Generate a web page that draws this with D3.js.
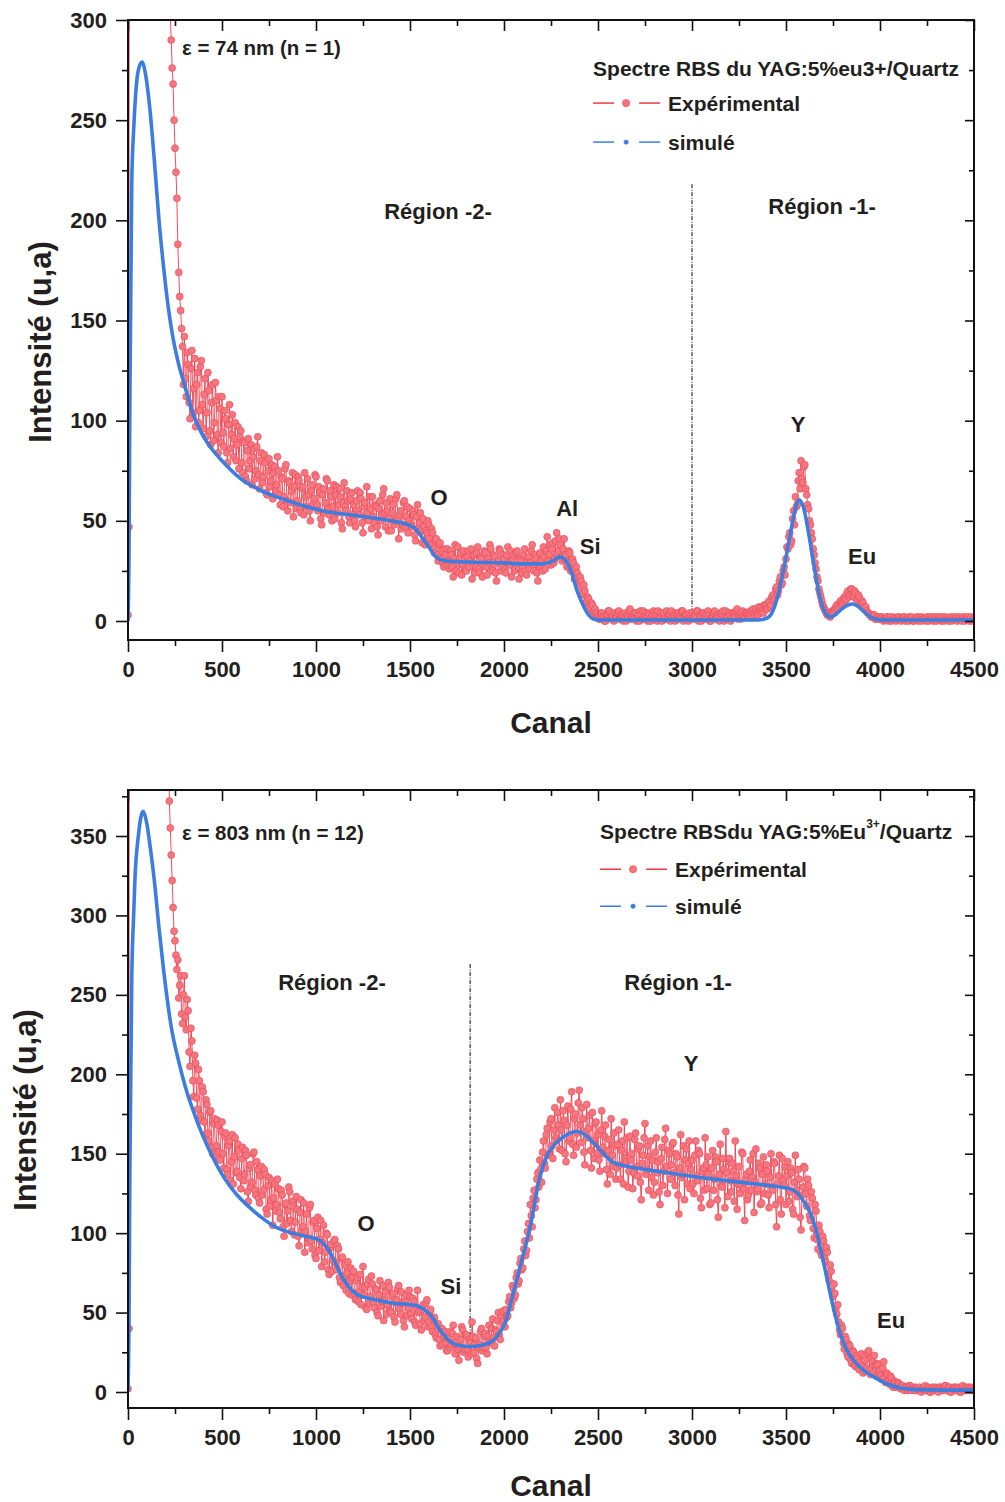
<!DOCTYPE html>
<html>
<head>
<meta charset="utf-8">
<script src="https://cdn.jsdelivr.net/npm/d3@7"></script>
<style>
body { margin: 0; background: #fff; }
text { font-family: "Liberation Sans", Arial, sans-serif; font-weight: bold; fill: #231f20; }
</style>
</head>
<body>
<script>
// channel grid of the measured spectra
var expStep = 5;

// panel 1 : 74 nm film, measured counts every 5 channels (0 .. 4500), one row = 100 channels
var exp1 = [
  3, 47, 1500, 1500, 1500, 1500, 1500, 1500, 1500, 1500, 1500, 1500, 1500, 1500, 1500, 1500, 1500, 1500, 1500, 1500,
  1500, 1500, 1500, 1500, 1500, 1500, 1500, 1500, 1500, 1500, 1500, 1500, 1500, 1500, 1500, 1500, 1500, 1500, 1500, 1500,
  1500, 1500, 560, 380, 318, 302, 290, 276, 268, 250, 236, 224, 211, 188, 174, 162, 155, 146, 137, 118,
  142, 121, 112, 134, 128, 109, 101, 126, 135, 104, 116, 131, 97, 118, 124, 99, 105, 127, 130, 108,
  96, 113, 121, 92, 104, 124, 115, 95, 88, 109, 118, 90, 99, 119, 110, 93, 84, 112, 106, 89,
  112, 94, 87, 105, 101, 84, 79, 98, 108, 86, 93, 103, 82, 91, 99, 80, 88, 97, 76, 92,
  95, 79, 74, 90, 89, 72, 70, 85, 91, 76, 80, 88, 68, 82, 86, 71, 75, 87, 92, 73,
  66, 80, 84, 69, 72, 83, 79, 64, 63, 75, 81, 67, 70, 78, 61, 74, 77, 65, 68, 82,
  75, 63, 58, 72, 71, 57, 62, 76, 78, 60, 55, 70, 69, 59, 65, 74, 52, 67, 73, 56,
  60, 72, 70, 56, 54, 66, 67, 53, 74, 62, 57, 71, 63, 55, 50, 65, 68, 58, 61, 73,
  72, 58, 55, 67, 64, 51, 48, 63, 66, 54, 59, 71, 70, 56, 53, 65, 62, 50, 57, 68,
  51, 63, 67, 54, 58, 66, 62, 49, 46, 59, 69, 57, 55, 65, 60, 52, 49, 61, 64, 53,
  58, 50, 47, 60, 65, 55, 53, 64, 61, 49, 44, 57, 59, 52, 67, 54, 50, 62, 56, 46,
  62, 52, 49, 58, 57, 47, 43, 56, 60, 50, 53, 63, 66, 54, 47, 59, 55, 45, 51, 61,
  45, 54, 58, 48, 50, 61, 63, 51, 41, 53, 55, 46, 48, 59, 60, 47, 52, 57, 44, 50,
  56, 48, 47, 55, 53, 43, 40, 52, 58, 46, 49, 54, 45, 39, 51, 47, 38, 45, 44, 50,
  48, 41, 38, 46, 44, 36, 34, 40, 41, 33, 30, 38, 39, 31, 35, 29, 27, 36, 33, 28,
  36, 30, 26, 35, 33, 27, 22, 31, 38, 25, 29, 37, 24, 32, 34, 23, 28, 35, 31, 26,
  25, 32, 35, 27, 30, 36, 21, 29, 33, 24, 27, 34, 37, 26, 24, 32, 31, 22, 28, 35,
  34, 27, 23, 31, 29, 38, 36, 26, 25, 33, 32, 24, 20, 29, 30, 36, 35, 25, 27, 33,
  31, 26, 24, 33, 37, 29, 28, 35, 22, 30, 33, 25, 26, 34, 35, 27, 21, 31, 30, 24,
  27, 33, 36, 25, 23, 30, 32, 26, 29, 35, 38, 28, 25, 33, 31, 24, 20, 29, 34, 27,
  30, 25, 37, 32, 26, 35, 42, 30, 33, 38, 28, 36, 39, 29, 31, 40, 44, 33, 35, 41,
  38, 32, 30, 36, 41, 31, 33, 27, 28, 35, 34, 25, 26, 31, 29, 21, 22, 27, 24, 18,
  17, 22, 20, 13, 14, 18, 15, 9, 10, 12, 11, 6, 7, 9, 8, 4, 5, 6, 4, 2,
  3, 1, 1, 4, 4, 2, 2, 0, 0, 3, 3, 5, 5, 2, 1, 3, 2, 0, 4, 2,
  2, 4, 5, 1, 1, 3, 3, 0, 4, 2, 0, 3, 2, 5, 6, 1, 3, 2, 1, 4,
  4, 0, 2, 3, 0, 5, 3, 1, 5, 2, 1, 4, 2, 0, 4, 3, 0, 2, 3, 5,
  1, 4, 3, 0, 5, 2, 2, 4, 0, 3, 4, 1, 2, 5, 1, 3, 3, 0, 5, 2,
  2, 3, 0, 4, 3, 1, 4, 2, 1, 5, 5, 0, 2, 3, 3, 1, 0, 4, 2, 1,
  4, 2, 1, 3, 2, 5, 5, 0, 3, 2, 0, 4, 4, 1, 2, 3, 1, 5, 3, 0,
  0, 2, 3, 4, 5, 1, 1, 3, 2, 0, 4, 2, 3, 5, 0, 2, 5, 1, 2, 4,
  3, 0, 1, 4, 4, 2, 2, 5, 6, 1, 3, 4, 1, 3, 5, 2, 2, 4, 4, 3,
  3, 2, 5, 4, 2, 6, 4, 3, 6, 4, 3, 7, 5, 4, 7, 5, 4, 8, 8, 6,
  6, 9, 10, 7, 8, 12, 13, 10, 11, 16, 17, 13, 15, 20, 22, 18, 19, 25, 27, 23,
  31, 37, 36, 42, 44, 38, 40, 51, 55, 48, 62, 57, 58, 70, 74, 66, 80, 71, 69, 77,
  78, 66, 63, 58, 56, 50, 48, 44, 41, 36, 33, 29, 26, 22, 20, 16, 14, 12, 10, 8,
  7, 6, 5, 4, 3, 4, 4, 2, 3, 5, 5, 4, 6, 7, 8, 6, 7, 9, 10, 8,
  9, 11, 12, 10, 11, 14, 15, 12, 13, 16, 16, 13, 12, 15, 14, 11, 10, 13, 12, 9,
  8, 10, 9, 7, 6, 7, 5, 4, 4, 3, 3, 2, 2, 3, 3, 1, 1, 2, 2, 1,
  1, 2, 2, 1, 0, 1, 1, 2, 2, 0, 1, 2, 0, 1, 2, 1, 1, 0, 1, 2,
  2, 1, 0, 1, 1, 2, 2, 0, 1, 1, 0, 2, 1, 1, 2, 0, 0, 1, 1, 2,
  1, 0, 2, 1, 0, 2, 1, 1, 1, 0, 2, 1, 0, 2, 1, 1, 2, 0, 1, 2,
  0, 2, 1, 1, 2, 0, 1, 2, 0, 1, 2, 1, 1, 0, 1, 2, 0, 1, 2, 1,
  1, 2, 0, 1, 2, 1, 1, 0, 2, 1, 0, 2, 1, 1, 2, 0, 1, 2, 0, 1,
  1
];

// panel 1 : simulation
var sim1Ch = [0, 5, 10, 20, 30, 40, 55, 75, 95, 117, 140, 165, 190, 215, 240, 270, 300, 340, 390, 445,
  500, 600, 700, 835, 950, 1050, 1200, 1314, 1400, 1491, 1530, 1562, 1600, 1633, 1670, 1740, 1850,
  2000, 2100, 2200, 2250, 2298, 2330, 2360, 2387, 2420, 2450, 2475, 2510, 2600, 3000, 3350, 3400,
  3430, 3460, 3490, 3520, 3545, 3570, 3595, 3620, 3650, 3680, 3710, 3735, 3760, 3790, 3820, 3852,
  3880, 3910, 3950, 4000, 4100, 4500];
var sim1Val = [0, 30, 110, 219, 245, 262, 275, 279, 272, 255, 230, 200, 176, 156, 141, 128, 118, 105, 94, 86,
  80, 71, 65.5, 60.5, 57, 54.7, 52.8, 51.3, 50, 48, 46, 42, 37, 32.5, 30.5, 29.7, 29.3,
  29, 28.5, 28.5, 29.5, 32, 30, 24, 15.5, 8, 3, 1, 0.5, 0.5, 0.5, 0.5, 1.5,
  5, 14, 27, 42, 54, 60.5, 56, 44, 27, 12, 4, 2, 3, 5.5, 7.5, 8.5,
  7.5, 5, 2, 0.6, 0.5, 0.5];

// panel 2 : 803 nm film, measured counts every 5 channels (0 .. 4500), one row = 100 channels
var exp2 = [
  2, 40, 1500, 1500, 1500, 1500, 1500, 1500, 1500, 1500, 1500, 1500, 1500, 1500, 1500, 1500, 1500, 1500, 1500, 1500,
  1500, 1500, 1500, 1500, 1500, 1500, 1500, 1500, 1500, 1500, 1500, 1500, 1500, 1500, 1500, 1500, 1500, 1500, 1500, 1500,
  1500, 1500, 760, 420, 372, 355, 338, 322, 305, 290, 284, 275, 266, 272, 248, 256, 262, 238, 232, 250,
  262, 236, 228, 247, 240, 214, 205, 229, 221, 196, 186, 212, 207, 185, 178, 203, 196, 174, 171, 192,
  189, 170, 162, 184, 181, 163, 158, 176, 177, 154, 150, 169, 172, 148, 155, 171, 168, 151, 146, 164,
  170, 150, 141, 161, 163, 140, 137, 155, 158, 133, 145, 162, 131, 148, 160, 138, 139, 156, 152, 135,
  128, 147, 154, 133, 137, 152, 149, 126, 120, 141, 143, 129, 132, 150, 151, 127, 124, 145, 140, 122,
  119, 136, 142, 124, 127, 140, 137, 115, 112, 130, 135, 117, 121, 133, 105, 122, 131, 114, 118, 134,
  128, 113, 109, 127, 124, 104, 98, 118, 119, 106, 114, 129, 126, 108, 101, 120, 117, 99, 107, 123,
  115, 98, 92, 113, 121, 102, 104, 119, 88, 101, 112, 94, 97, 116, 118, 95, 90, 107, 108, 86,
  84, 103, 110, 89, 96, 108, 79, 94, 105, 82, 88, 100, 99, 77, 74, 91, 93, 76, 83, 95,
  96, 81, 77, 92, 90, 72, 69, 84, 85, 67, 73, 80, 64, 75, 82, 62, 70, 78, 61, 72,
  76, 62, 58, 70, 72, 57, 63, 74, 55, 66, 79, 61, 66, 53, 52, 68, 71, 56, 60, 73,
  68, 56, 53, 65, 64, 50, 48, 61, 70, 54, 57, 67, 45, 58, 63, 49, 55, 69, 66, 51,
  50, 60, 62, 47, 44, 56, 58, 65, 67, 52, 49, 63, 56, 45, 41, 57, 61, 48, 53, 64,
  60, 49, 46, 59, 57, 44, 42, 53, 64, 50, 51, 43, 39, 52, 55, 45, 47, 56, 58, 41,
  44, 50, 52, 41, 38, 46, 47, 36, 34, 42, 43, 33, 29, 39, 40, 30, 35, 38, 31, 26,
  26, 34, 38, 28, 30, 37, 42, 31, 24, 32, 35, 27, 20, 29, 33, 41, 39, 25, 27, 36,
  36, 27, 22, 33, 31, 24, 44, 35, 25, 30, 34, 21, 18, 28, 30, 38, 40, 26, 28, 35,
  37, 28, 24, 35, 42, 32, 31, 40, 46, 34, 29, 39, 38, 45, 50, 36, 33, 47, 44, 51,
  45, 41, 52, 47, 48, 57, 60, 53, 56, 67, 65, 59, 61, 72, 75, 68, 70, 81, 84, 77,
  78, 90, 95, 86, 89, 101, 106, 97, 118, 111, 104, 122, 127, 116, 121, 134, 138, 129, 146, 140,
  132, 151, 158, 144, 141, 162, 166, 149, 150, 170, 172, 155, 147, 165, 179, 160, 158, 176, 168, 153,
  184, 165, 152, 177, 171, 150, 145, 168, 180, 158, 160, 178, 189, 156, 149, 172, 175, 154, 163, 182,
  190, 168, 157, 179, 172, 151, 143, 164, 181, 160, 166, 174, 152, 141, 176, 158, 147, 169, 170, 150,
  162, 146, 139, 165, 177, 154, 150, 161, 168, 140, 131, 152, 159, 137, 172, 149, 142, 163, 155, 134,
  141, 156, 165, 143, 134, 152, 158, 131, 170, 147, 145, 160, 129, 139, 161, 146, 150, 128, 138, 159,
  163, 142, 136, 153, 155, 132, 121, 144, 149, 160, 169, 137, 140, 155, 127, 148, 158, 135, 146, 124,
  132, 151, 160, 138, 145, 126, 118, 147, 154, 130, 139, 159, 166, 142, 125, 152, 150, 134, 143, 156,
  157, 138, 130, 150, 148, 124, 112, 141, 162, 135, 137, 155, 121, 146, 153, 131, 144, 158, 128, 140,
  146, 131, 125, 149, 158, 136, 133, 152, 150, 122, 116, 139, 141, 127, 160, 143, 128, 148, 137, 118,
  119, 141, 152, 127, 134, 148, 145, 121, 110, 137, 156, 130, 129, 147, 140, 116, 164, 138, 123, 145,
  147, 133, 126, 144, 139, 120, 158, 136, 115, 131, 142, 125, 131, 151, 150, 128, 108, 134, 137, 121,
  124, 139, 146, 127, 135, 150, 113, 132, 153, 126, 128, 144, 141, 118, 119, 137, 148, 125, 131, 143,
  139, 124, 116, 135, 150, 129, 127, 145, 144, 118, 104, 131, 136, 149, 121, 112, 147, 133, 130, 142,
  118, 136, 145, 120, 126, 141, 138, 115, 112, 132, 149, 127, 123, 140, 134, 110, 102, 124, 129, 142,
  141, 125, 117, 134, 130, 111, 108, 126, 122, 103, 97, 118, 114, 96, 90, 105, 101, 88, 86, 98,
  95, 84, 82, 91, 88, 74, 70, 80, 76, 63, 60, 68, 62, 52, 49, 55, 44, 39, 36, 42,
  40, 31, 27, 35, 33, 24, 22, 30, 29, 20, 18, 26, 25, 17, 16, 23, 21, 15, 14, 19,
  24, 16, 12, 22, 20, 13, 15, 25, 26, 14, 11, 21, 19, 12, 23, 17, 10, 18, 17, 12,
  14, 10, 8, 15, 19, 9, 6, 12, 11, 7, 5, 10, 9, 4, 3, 7, 6, 3, 4, 6,
  5, 3, 2, 4, 4, 2, 1, 3, 3, 1, 2, 4, 4, 2, 1, 3, 2, 1, 3, 2,
  1, 2, 3, 1, 0, 2, 2, 3, 4, 1, 1, 3, 2, 0, 0, 2, 3, 1, 2, 3,
  2, 1, 0, 3, 3, 2, 1, 2, 2, 4, 4, 1, 1, 3, 3, 0, 0, 2, 2, 3,
  3, 2, 1, 3, 2, 0, 0, 2, 4, 1, 2, 3, 1, 2, 3, 1, 2, 3, 1, 2,
  2
];

// panel 2 : simulation
var sim2Ch = [0, 5, 10, 20, 30, 37, 55, 80, 100, 117, 140, 165, 190, 232, 270, 303, 350, 392, 450, 516,
  580, 658, 720, 782, 860, 942, 1012, 1040, 1066, 1100, 1137, 1180, 1225, 1300, 1403, 1500, 1545,
  1580, 1616, 1660, 1722, 1780, 1828, 1880, 1935, 1970, 2006, 2049, 2095, 2139, 2192, 2230, 2263,
  2320, 2387, 2430, 2476, 2530, 2582, 2660, 2759, 2900, 3113, 3300, 3469, 3520, 3557, 3595, 3628,
  3655, 3681, 3710, 3735, 3760, 3788, 3820, 3859, 3910, 3965, 4030, 4107, 4200, 4350, 4500];
var sim2Val = [0, 40, 140, 260, 300, 323, 350, 365.5, 358, 344, 322, 292, 265, 228.5, 208, 193, 176, 163, 148, 134,
  124, 115, 109, 104, 100.5, 98, 96, 93.5, 89.6, 82, 72.8, 65.5, 61, 58.5, 56, 55, 54,
  51.5, 47.5, 39, 31, 29, 28.6, 29.5, 31.8, 36, 43.5, 62, 83, 104, 136, 149, 155,
  161, 164, 162, 157, 150, 144.5, 142, 140, 137.5, 134, 131.5, 129, 128, 125.6, 120, 113,
  104, 91.5, 76, 62, 49, 37, 27, 20, 14, 9.7, 5.5, 2.5, 1.5, 1.2, 1.2];

var xTicks = [0, 500, 1000, 1500, 2000, 2500, 3000, 3500, 4000, 4500];
var xMinor = [250, 750, 1250, 1750, 2250, 2750, 3250, 3750, 4250];
var yTicks1 = [0, 50, 100, 150, 200, 250, 300];
var yMinor1 = [25, 75, 125, 175, 225, 275];
var yTicks2 = [0, 50, 100, 150, 200, 250, 300, 350];
var yMinor2 = [25, 75, 125, 175, 225, 275, 325, 375];

// annotations in data coordinates [text, channel, counts]
var peaks1 = [["Y", 3564, 98], ["O", 1655, 61.5], ["Al", 2336, 56], ["Si", 2458, 37], ["Eu", 3905, 32]];
var regions1 = [["Région -2-", 1649, 204.5], ["Région -1-", 3692, 207]];
var peaks2 = [["Y", 2995, 206.5], ["O", 1266, 105.8], ["Si", 1718, 66.7], ["Eu", 4059, 44.7]];
var regions2 = [["Région -2-", 1085, 258], ["Région -1-", 2926, 257.5]];

var svg = d3.select("body")
    .append("svg")
    .attr("width", 1005)
    .attr("height", 1502)
    .style("display", "block");

var redLine = "#f03a48", redFill = "#f6767d", redStroke = "#e5475a", blue = "#3c7ee0";

function drawPanel(p) {
    var x = d3.scaleLinear().domain([0, 4500]).range([128, 974]);
    var y = d3.scaleLinear().domain([0, p.yMax]).range([p.y0, p.yMaxPx]);
    var g = svg.append("g");

    svg.append("clipPath").attr("id", "clip" + p.id)
        .append("rect")
        .attr("x", 128).attr("y", p.top)
        .attr("width", 846).attr("height", p.bottom - p.top);

    // region separator
    g.append("line")
        .attr("x1", x(p.sep[0])).attr("x2", x(p.sep[0]))
        .attr("y1", y(p.sep[1])).attr("y2", y(p.sep[2]))
        .attr("stroke", "#333")
        .attr("stroke-width", 1.2)
        .attr("stroke-dasharray", "4,1.5,1,1.5");

    var data = p.exp.map(function (v, i) { return {c: i * expStep, v: v}; });
    var sim = p.simCh.map(function (c, i) { return {c: c, v: p.simVal[i]}; });

    var plot = g.append("g").attr("clip-path", "url(#clip" + p.id + ")");

    plot.append("path")
        .datum(data)
        .attr("d", d3.line().x(function (d) { return x(d.c); }).y(function (d) { return y(d.v); }))
        .attr("fill", "none")
        .attr("stroke", redLine)
        .attr("stroke-width", 0.9);

    plot.selectAll(".pt")
        .data(data)
        .enter()
        .append("circle")
        .attr("class", "pt")
        .attr("cx", function (d) { return x(d.c); })
        .attr("cy", function (d) { return y(d.v); })
        .attr("r", 3.5)
        .attr("fill", redFill)
        .attr("stroke", redStroke)
        .attr("stroke-width", 0.6);

    plot.append("path")
        .datum(sim)
        .attr("d", d3.line().curve(d3.curveMonotoneX)
            .x(function (d) { return x(d.c); }).y(function (d) { return y(d.v); }))
        .attr("fill", "none")
        .attr("stroke", blue)
        .attr("stroke-width", 3.6);

    // axes
    var left = g.append("g").attr("transform", "translate(128,0)");
    left.call(d3.axisLeft(y).tickValues(p.yTicks).tickSize(12).tickPadding(9).tickFormat(d3.format("d")));
    left.append("g").call(d3.axisLeft(y).tickValues(p.yMinor.filter(function (v) { return y(v) > p.top; }))
        .tickSize(6).tickFormat(""));

    var bottom = g.append("g").attr("transform", "translate(0," + p.bottom + ")");
    bottom.call(d3.axisBottom(x).tickValues(xTicks).tickSize(12).tickPadding(9).tickFormat(d3.format("d")));
    bottom.append("g").call(d3.axisBottom(x).tickValues(xMinor).tickSize(6).tickFormat(""));

    var top = g.append("g").attr("transform", "translate(0," + p.top + ")");
    top.call(d3.axisBottom(x).tickValues(xTicks).tickSize(11).tickFormat(""));
    top.append("g").call(d3.axisBottom(x).tickValues(xMinor).tickSize(6).tickFormat(""));

    var right = g.append("g").attr("transform", "translate(974,0)");
    right.call(d3.axisLeft(y).tickValues(p.yTicks).tickSize(9).tickFormat(""));
    right.append("g").call(d3.axisLeft(y).tickValues(p.yMinor.filter(function (v) { return y(v) > p.top; }))
        .tickSize(5).tickFormat(""));

    g.selectAll(".domain").remove();
    g.selectAll(".tick line").attr("stroke", "#111").attr("stroke-width", 1.6);
    g.selectAll(".tick text")
        .style("font-family", "'Liberation Sans', Arial, sans-serif")
        .style("font-weight", "bold")
        .style("font-size", "22px")
        .attr("fill", "#231f20");

    g.append("rect")
        .attr("x", 128).attr("y", p.top)
        .attr("width", 846).attr("height", p.bottom - p.top)
        .attr("fill", "none")
        .attr("stroke", "#111")
        .attr("stroke-width", 2);

    // titles
    g.append("text")
        .attr("x", 551)
        .attr("y", p.canalY)
        .attr("text-anchor", "middle")
        .style("font-size", "30px")
        .text("Canal");

    g.append("text")
        .attr("transform", "translate(" + p.yTitleX + "," + p.yTitleY + ") rotate(-90)")
        .attr("text-anchor", "middle")
        .attr("dominant-baseline", "central")
        .style("font-size", "31px")
        .text("Intensité (u,a)");

    // labels
    g.selectAll(".peak")
        .data(p.peaks.concat(p.regions))
        .enter()
        .append("text")
        .attr("x", function (d) { return x(d[1]); })
        .attr("y", function (d) { return y(d[2]); })
        .attr("text-anchor", "middle")
        .attr("dominant-baseline", "central")
        .style("font-size", "22px")
        .text(function (d) { return d[0]; });

    g.append("text")
        .attr("x", x(p.eps[1]))
        .attr("y", y(p.eps[2]))
        .attr("dominant-baseline", "central")
        .style("font-size", "20.5px")
        .text(p.eps[0]);

    // legend
    var lx = x(p.leg[0]), ly = y(p.leg[1]);
    var title = g.append("text")
        .attr("x", lx).attr("y", ly)
        .attr("dominant-baseline", "central")
        .style("font-size", "21px");
    p.legTitle.forEach(function (t) {
        var ts = title.append("tspan").text(t[0]);
        if (t[1]) ts.attr("baseline-shift", "super").style("font-size", "12px");
    });

    var rows = [["Expérimental", redLine, redFill, 3.6, p.legRows[0]], ["simulé", blue, blue, 2.2, p.legRows[1]]];
    rows.forEach(function (r) {
        var ry = ly + r[4];
        g.append("line").attr("x1", lx).attr("x2", lx + 21).attr("y1", ry).attr("y2", ry)
            .attr("stroke", r[1]).attr("stroke-width", 1.5);
        g.append("line").attr("x1", lx + 46).attr("x2", lx + 67).attr("y1", ry).attr("y2", ry)
            .attr("stroke", r[1]).attr("stroke-width", 1.5);
        g.append("circle").attr("cx", lx + 33).attr("cy", ry).attr("r", r[3])
            .attr("fill", r[2]).attr("stroke", r[1]).attr("stroke-width", 0.6);
        g.append("text").attr("x", lx + 75).attr("y", ry)
            .attr("dominant-baseline", "central")
            .style("font-size", "21px")
            .text(r[0]);
    });
}

drawPanel({
    id: 1, exp: exp1, simCh: sim1Ch, simVal: sim1Val,
    yMax: 300, y0: 621, yMaxPx: 20, top: 20, bottom: 640,
    yTicks: yTicks1, yMinor: yMinor1,
    sep: [3000, 218, 0],
    peaks: peaks1, regions: regions1,
    eps: ["ε = 74 nm (n = 1)", 287, 286.5],
    leg: [2474, 276], legRows: [35, 74],
    legTitle: [["Spectre RBS du YAG:5%eu3+/Quartz", false]],
    yTitleX: 40, yTitleY: 342, canalY: 733
});

drawPanel({
    id: 2, exp: exp2, simCh: sim2Ch, simVal: sim2Val,
    yMax: 350, y0: 1392, yMaxPx: 836, top: 790, bottom: 1408,
    yTicks: yTicks2, yMinor: yMinor2,
    sep: [1820, 269.5, 30],
    peaks: peaks2, regions: regions2,
    eps: ["ε = 803 nm (n = 12)", 287, 352],
    leg: [2511, 353], legRows: [38, 75],
    legTitle: [["Spectre RBSdu YAG:5%Eu", false], ["3+", true], ["/Quartz", false]],
    yTitleX: 25, yTitleY: 1110, canalY: 1496
});
</script>
</body>
</html>
